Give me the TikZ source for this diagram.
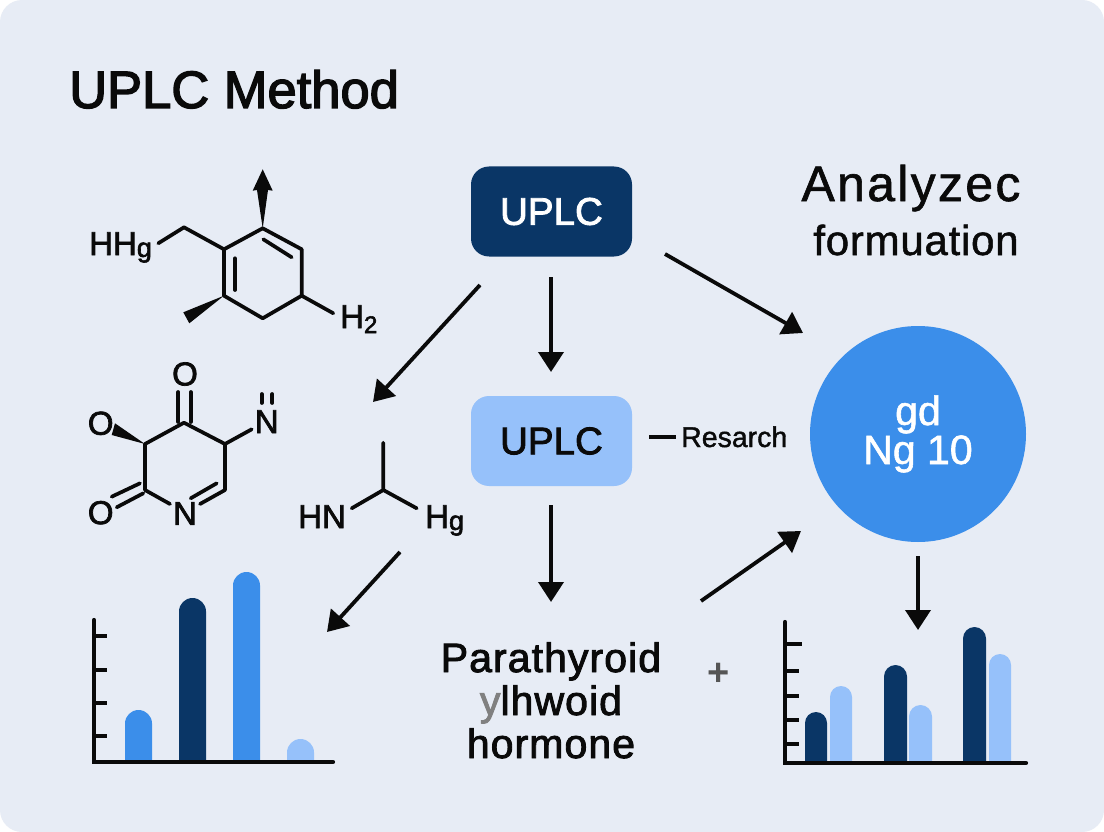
\documentclass[tikz,border=0pt]{standalone}
\usepackage{fontspec}
\setmainfont{Liberation Sans}
\newfontfamily\titlefont[FakeBold=2.6]{Liberation Sans}
\newfontfamily\medfont[FakeBold=2.2]{Liberation Sans}
\newfontfamily\regfont[FakeBold=1.4]{Liberation Sans}
\newfontfamily\medspaced[FakeBold=2.2,LetterSpace=2.6]{Liberation Sans}
\newfontfamily\lightspaced[FakeBold=1.2,LetterSpace=4.6]{Liberation Sans}
\newfontfamily\lightspacedb[FakeBold=1.2,LetterSpace=1.8]{Liberation Sans}
\usetikzlibrary{arrows.meta}
\definecolor{bgc}{HTML}{E7ECF5}
\definecolor{darkb}{HTML}{0A3666}
\definecolor{lightb}{HTML}{96C1FA}
\definecolor{midb}{HTML}{3B8EEA}
\definecolor{ink}{HTML}{0A0A0A}
\newcommand{\fs}[1]{\fontsize{#1}{#1}\selectfont}
\newcommand{\chartbar}[5]{\fill[#5] (#1,#4) [rounded corners=#2] -- (#1,#3) -- ({#1+2*#2},#3) [sharp corners] -- ({#1+2*#2},#4) -- cycle;}
\tikzset{
  x=1pt,y=-1pt,
  flow/.style={draw=ink,line width=3.8pt,-{Triangle[length=20pt,width=25pt]}},
  bond/.style={draw=ink,line width=3.7pt,line cap=round,line join=round},
  wedge/.style={fill=ink},
  atom/.style={inner sep=0pt,text=ink,font=\medfont\fs{33}},
  axisline/.style={draw=ink,line width=4.2pt,line cap=round},
  tick/.style={draw=ink,line width=4.2pt},
  label/.style={inner sep=0pt,text=ink,align=center},
  box/.style={rounded corners=18pt,minimum width=161pt,minimum height=90pt,inner sep=0pt,font=\medfont\fs{38.5}},
}
\begin{document}
\begin{tikzpicture}
\useasboundingbox (0,0) rectangle (1104,832);
\fill[white] (0,0) rectangle (1104,832);
\fill[bgc,rounded corners=22pt] (0,0) rectangle (1104,832);

% title
\node[label,anchor=base west,font=\titlefont\fs{52.5}] (title) at (69,108) {UPLC Method};
\node[label,anchor=base,font=\lightspaced\fs{50}] (an1) at (911,201) {Analyzec};
\node[label,anchor=base,font=\lightspacedb\fs{42}] (an2) at (916,255) {formuation};

% boxes
\node[box,fill=darkb,text=white] (u1) at (551.5,211.5) {UPLC};
\node[box,fill=lightb,text=ink] (u2) at (551.5,441) {UPLC};
\node[circle,fill=midb,minimum size=216pt,inner sep=0pt] (circ) at (918,434) {};
\node[inner sep=0pt,text=white,font=\regfont\fs{41},anchor=base] (c1) at (918,425) {gd};
\node[inner sep=0pt,text=white,font=\regfont\fs{41},anchor=base] (c2) at (918,464) {Ng 10};

% research
\coordinate (r0) at (649,437); \coordinate (r1) at (676,437);
\draw[draw=ink,line width=3.6pt] (r0) -- (r1);
\node[label,anchor=base west,font=\regfont\fs{28.5}] (res) at (681,447) {Resarch};

% parathyroid
\node[label,anchor=base,font=\medspaced\fs{41}] (p1) at (551,672) {Parathyroid};
\node[label,anchor=base,font=\medspaced\fs{41}] (p2) at (551,715) {\textcolor{gray}{y}lhwoid};
\node[label,anchor=base,font=\medspaced\fs{41}] (p3) at (551,758) {hormone};
\node[inner sep=0pt,text={rgb,255:red,85;green,85;blue,85},font=\fs{38}\bfseries] (plus) at (718.5,674) {+};

% flow arrows
\coordinate (a0) at (480,285); \coordinate (a1) at (373,402);
\coordinate (b0) at (551,277); \coordinate (b1) at (551,372);
\coordinate (c0) at (665,254); \coordinate (c1p) at (803,333);
\coordinate (d0) at (551,505); \coordinate (d1) at (551,602);
\coordinate (e0) at (400,552); \coordinate (e1) at (327,632);
\coordinate (f0) at (701,601); \coordinate (f1) at (801,531);
\coordinate (g0) at (918,556); \coordinate (g1) at (918,630);
\foreach \s/\t in {a0/a1,b0/b1,c0/c1p,d0/d1,e0/e1,f0/f1,g0/g1}
  \draw[flow] (\s) -- (\t);

% molecule 1
\coordinate (m1a) at (262.7,228.3);
\coordinate (m1b) at (301.7,249.3);
\coordinate (m1c) at (301.7,295.7);
\coordinate (m1d) at (262.7,318.3);
\coordinate (m1e) at (224,295.7);
\coordinate (m1f) at (224,249.3);
\draw[bond] (m1a)--(m1b)--(m1c)--(m1d)--(m1e)--(m1f)--cycle;
\coordinate (m1g) at (184,227.3); \coordinate (m1h) at (158.3,243.3);
\draw[bond] (m1f)--(m1g)--(m1h);
\coordinate (m1i) at (333.3,313.3);
\draw[bond] (m1c)--(m1i);
\draw[bond] (235,258.3)--(235,290);
\draw[bond] (263.3,239.3)--(291.7,257.3);
\fill[wedge] (m1a) -- (257,190) -- (252.7,190.7) -- (262.7,169.3) -- (272.7,190.7) -- (268,190) -- cycle;
\fill[wedge] (m1e) -- (183.3,312.3) -- (189.3,323.3) -- cycle;
\node[atom,anchor=base west] (hhg) at (89,255) {HH\raisebox{-2pt}{\fs{27}g}};
\node[atom,anchor=base west] (h2) at (340,328) {H\raisebox{-5pt}{\fs{24}2}};

% molecule 2
\coordinate (m2a) at (184,422.7);
\coordinate (m2b) at (225,444);
\coordinate (m2c) at (225,490);
\coordinate (m2d) at (145,490);
\coordinate (m2e) at (145,444);
\node[atom] (n2) at (185,513.5) {N};
\node[atom] (o2a) at (185,374) {O};
\node[atom] (o2b) at (100.7,423.3) {O};
\node[atom] (o2c) at (100.7,512.7) {O};
\node[atom] (n2b) at (266.7,421.7) {N};
\draw[bond] (m2d)--(m2e)--(m2a)--(m2b)--(m2c)--(200,504);
\draw[bond] (m2d)--(170,504);
\draw[bond] (216.7,483.3)--(190.7,498.3);
\draw[bond] (178.3,392)--(178.3,422);
\draw[bond] (190.7,392)--(190.7,422);
\draw[bond] (111.7,496.7)--(140,483.3);
\draw[bond] (116.7,507.3)--(143.3,493.3);
\draw[bond] (m2b)--(251.7,429.3);
\draw[bond] (261.7,394)--(261.7,403);
\draw[bond] (272.3,394)--(272.3,403);
\fill[wedge] (m2e) -- (115,423.3) -- (111.7,435) -- cycle;

% molecule 3
\coordinate (m3a) at (383.3,442.7);
\coordinate (m3b) at (383.3,490);
\coordinate (m3c) at (351.7,508.3);
\coordinate (m3d) at (416.7,508.3);
\draw[bond] (m3a)--(m3b) (m3c)--(m3b)--(m3d);
\node[atom,anchor=base west] (hn) at (298,528) {HN};
\node[atom,anchor=base west] (hg) at (425,528) {H\raisebox{-2pt}{\fs{27}g}};

% left chart
\chartbar{125}{13.5}{710}{761}{midb}
\chartbar{179}{13.5}{598}{761}{darkb}
\chartbar{233}{13.5}{572}{761}{midb}
\chartbar{287}{13.5}{739}{761}{lightb}
\coordinate (la) at (94,620); \coordinate (lo) at (94,762); \coordinate (lb) at (333,762);
\draw[axisline] (la)--(lo)--(lb);
\foreach \y in {636,670,703,736} \draw[tick] (94,\y)--(107,\y);

% right chart
\chartbar{805}{11}{712}{762}{darkb}
\chartbar{830}{11}{686}{762}{lightb}
\chartbar{884}{11.5}{665}{762}{darkb}
\chartbar{909}{11.5}{705}{762}{lightb}
\chartbar{963}{11.5}{627}{762}{darkb}
\chartbar{989}{11}{654}{762}{lightb}
\coordinate (ra) at (785,622); \coordinate (ro) at (785,763); \coordinate (rb) at (1026,763);
\draw[axisline] (ra)--(ro)--(rb);
\draw[tick] (785,644)--(802,644);
\foreach \y in {671,696,720,744} \draw[tick] (785,\y)--(799,\y);
\end{tikzpicture}
\end{document}
